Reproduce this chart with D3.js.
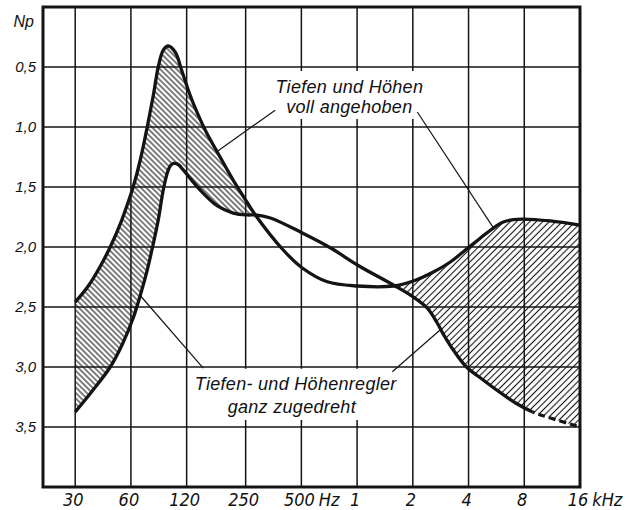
<!DOCTYPE html>
<html><head><meta charset="utf-8">
<script src="https://cdn.jsdelivr.net/npm/d3@7"></script>
<style>
html,body{margin:0;padding:0;background:#fff;}
svg{display:block;}
text{font-family:"Liberation Sans",Arial,sans-serif;font-style:italic;fill:#111;}
.narrow{font-family:"Liberation Sans Narrow","DejaVu Sans Condensed","Liberation Sans",sans-serif;}
</style></head>
<body>
<script>
// ---- data ----
const freqA = [30, 35.3, 41, 46.4, 52.5, 58, 61.7, 67.4, 73.5, 79.2, 84.3, 89.7, 95.4, 104, 113.6, 124, 137, 153, 175.6, 214, 256, 282, 399, 506, 690, 1003, 1570, 2013, 2583, 3190, 3846, 4635, 5446, 6168, 6990, 7915, 11070, 16000];
const npA   = [2.46, 2.325, 2.16, 2.0, 1.81, 1.625, 1.5, 1.275, 1.0, 0.74, 0.5, 0.36, 0.325, 0.375, 0.542, 0.717, 0.883, 1.042, 1.208, 1.442, 1.633, 1.733, 2.025, 2.175, 2.29, 2.325, 2.325, 2.283, 2.208, 2.125, 2.025, 1.925, 1.842, 1.792, 1.771, 1.767, 1.783, 1.817];
const freqB = [30, 37.1, 46.4, 53.7, 61.7, 68.2, 73.5, 79.2, 84.3, 89.7, 94.3, 97.8, 101.6, 108, 115, 142, 176, 214, 256, 282, 340, 506, 720, 1003, 1570, 2013, 2390, 2690, 2900, 3310, 3900, 4800, 5870, 7180, 8880, 11070, 16000];
const npB   = [3.375, 3.2, 3.0, 2.817, 2.592, 2.375, 2.192, 1.975, 1.775, 1.525, 1.383, 1.325, 1.304, 1.312, 1.358, 1.525, 1.658, 1.717, 1.733, 1.733, 1.758, 1.883, 2.008, 2.15, 2.317, 2.417, 2.508, 2.625, 2.717, 2.858, 3.0, 3.108, 3.208, 3.3, 3.375, 3.425, 3.5];
const dashFrom = 8880; // curve B is dashed beyond this frequency
const hatchSplit = 700; // left hatch "\\", right hatch "/"

const xTicks  = [30, 60, 120, 250, 500, 1000, 2000, 4000, 8000, 16000];
const xLabels = ["30", "60", "120", "250", "500", "1", "2", "4", "8", "16"];
const xUnits  = ["", "", "", "", "Hz", "", "", "", "", "kHz"];
const yTicks  = [0.5, 1.0, 1.5, 2.0, 2.5, 3.0, 3.5];
const yLabels = ["0,5", "1,0", "1,5", "2,0", "2,5", "3,0", "3,5"];
const yUnit = "Np";

const noteBoost = ["Tiefen und Höhen", "voll angehoben"];
const noteBoostPos = [[908, 0.717], [908, 0.883]];
const leadersBoost = [[[361, 0.86], [173, 1.21]], [[2115, 0.875], [5450, 1.84]]];
const noteCut = ["Tiefen- und Höhenregler", "ganz zugedreht"];
const noteCutPos = [[466, 3.19], [444, 3.383]];
const leadersCut = [[[147.5, 3.01], [67, 2.40]], [[1550, 3.04], [2817, 2.69]]];

// ---- layout ----
const W = 631, H = 510;
const fMin = 20.1, fMax = 16000, npMin = 0, npMax = 4;
const x = d3.scaleLog().domain([fMin, fMax]).range([43, 580]);
const y = d3.scaleLinear().domain([npMin, npMax]).range([7, 487]);
const ink = "#141414";

const svg = d3.select("body").append("svg").attr("width", W).attr("height", H);
svg.append("rect").attr("width", W).attr("height", H).attr("fill", "#fff");
const defs = svg.append("defs");

function hatch(id, angle, gap) {
  const p = defs.append("pattern").attr("id", id).attr("patternUnits", "userSpaceOnUse")
    .attr("width", gap).attr("height", gap).attr("patternTransform", `rotate(${angle})`);
  p.append("line").attr("x1", gap / 2).attr("x2", gap / 2).attr("y1", -1).attr("y2", gap + 1)
    .attr("stroke", ink).attr("stroke-width", 1.1);
}
hatch("hBack", -45, 3.9);
hatch("hFwd", 45, 4.6);

// grid
const grid = svg.append("g").attr("stroke", ink).attr("stroke-width", 1.5);
grid.selectAll(".vx").data(xTicks.filter(t => t < fMax)).join("line")
  .attr("x1", d => x(d)).attr("x2", d => x(d)).attr("y1", y(npMin)).attr("y2", y(npMax));
grid.selectAll(".hy").data(yTicks).join("line")
  .attr("x1", x(fMin)).attr("x2", x(fMax)).attr("y1", d => y(d)).attr("y2", d => y(d));

const A = freqA.map((f, i) => [f, npA[i]]);
const B = freqB.map((f, i) => [f, npB[i]]);
const line = d3.line().x(d => x(d[0])).y(d => y(d[1])).curve(d3.curveCatmullRom.alpha(0.5));
const pathA = line(A), pathB = line(B);

// clip: below A and above B
defs.append("clipPath").attr("id", "belowA").append("path")
  .attr("d", pathA + `L${x(fMax)},${y(npMax)}L${x(freqA[0])},${y(npMax)}Z`);
defs.append("clipPath").attr("id", "aboveB").append("path")
  .attr("d", pathB + `L${x(fMax)},${y(npMin)}L${x(freqB[0])},${y(npMin)}Z`);
const hg = svg.append("g").attr("clip-path", "url(#belowA)").append("g").attr("clip-path", "url(#aboveB)");
hg.append("rect").attr("x", x(freqA[0])).attr("y", y(npMin))
  .attr("width", x(hatchSplit) - x(freqA[0])).attr("height", y(npMax) - y(npMin)).attr("fill", "url(#hBack)");
hg.append("rect").attr("x", x(hatchSplit)).attr("y", y(npMin))
  .attr("width", x(fMax) - x(hatchSplit)).attr("height", y(npMax) - y(npMin)).attr("fill", "url(#hFwd)");

// notes with white backing
function note(lines, pos, padTop, padBot) {
  const g = svg.append("g");
  g.selectAll("text").data(lines).join("text")
    .attr("x", (d, i) => x(pos[i][0])).attr("y", (d, i) => y(pos[i][1]))
    .attr("text-anchor", "middle").attr("font-size", 18).attr("letter-spacing", 0.3).text(d => d);
  const bb = g.node().getBBox();
  g.insert("rect", "text").attr("x", bb.x - 4).attr("y", bb.y - padTop)
    .attr("width", bb.width + 8).attr("height", bb.height + padTop + padBot).attr("fill", "#fff");
  return g;
}
note(noteBoost, noteBoostPos, 6, 2);
note(noteCut, noteCutPos, 5, 3);

// leader lines
svg.append("g").attr("stroke", ink).attr("stroke-width", 1.2)
  .selectAll("line").data(leadersBoost.concat(leadersCut)).join("line")
  .attr("x1", d => x(d[0][0])).attr("y1", d => y(d[0][1]))
  .attr("x2", d => x(d[1][0])).attr("y2", d => y(d[1][1]));

// curves
defs.append("clipPath").attr("id", "solidPart").append("rect")
  .attr("x", 0).attr("y", 0).attr("width", x(dashFrom)).attr("height", H);
defs.append("clipPath").attr("id", "dashPart").append("rect")
  .attr("x", x(dashFrom)).attr("y", 0).attr("width", W - x(dashFrom)).attr("height", H);
const cv = svg.append("g").attr("fill", "none").attr("stroke", ink).attr("stroke-width", 3.3)
  .attr("stroke-linejoin", "round");
cv.append("path").attr("d", pathA);
cv.append("path").attr("d", pathB).attr("clip-path", "url(#solidPart)");
cv.append("path").attr("d", pathB).attr("clip-path", "url(#dashPart)")
  .attr("stroke-dasharray", "7 4").attr("stroke-dashoffset", -2);

// frame
svg.append("rect").attr("x", x(fMin)).attr("y", y(npMin))
  .attr("width", x(fMax) - x(fMin)).attr("height", y(npMax) - y(npMin))
  .attr("fill", "none").attr("stroke", ink).attr("stroke-width", 3);

// y labels
svg.append("g").selectAll("text").data(yTicks).join("text")
  .attr("x", 36).attr("y", d => y(d) + 5).attr("text-anchor", "end")
  .attr("font-size", 15).text((d, i) => yLabels[i]);
svg.append("text").attr("x", 34).attr("y", 27).attr("text-anchor", "end")
  .attr("font-size", 16).text(yUnit);

// x labels
const xl = svg.append("g");
xTicks.forEach((t, i) => {
  const tx = xl.append("text").attr("class", "narrow").attr("x", x(t) - 2).attr("y", 506)
    .attr("text-anchor", "middle").attr("font-size", 18).text(xLabels[i]);
  if (xUnits[i]) {
    const w = tx.node().getComputedTextLength();
    xl.append("text").attr("class", "narrow").attr("x", x(t) - 2 + w / 2 + 4).attr("y", 506)
      .attr("font-size", 18).text(xUnits[i]);
  }
});
</script>
</body></html>
